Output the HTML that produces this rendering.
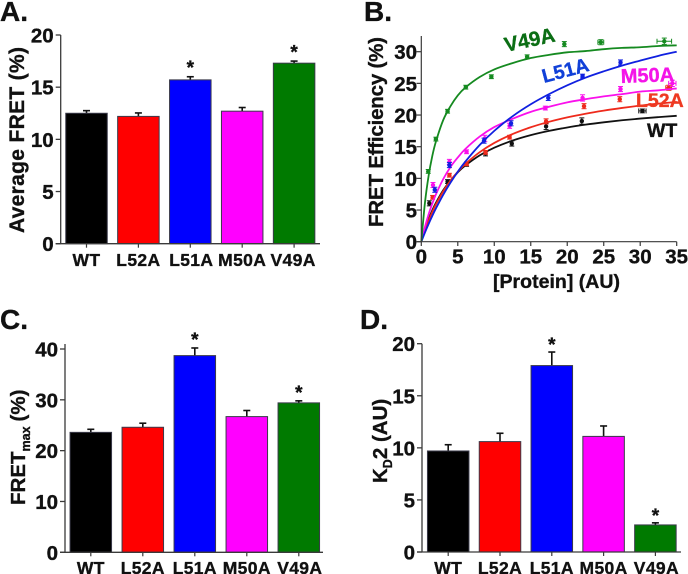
<!DOCTYPE html>
<html lang="en">
<head>
<meta charset="utf-8">
<title>FRET panels</title>
<style>
html,body{margin:0;padding:0;background:#fff;}
#figure{display:block;width:688px;height:574px;font-family:"Liberation Sans",Arial,sans-serif;font-weight:bold;}
text{font-family:"Liberation Sans",Arial,sans-serif;font-weight:bold;fill:#111;stroke:#111;stroke-width:0.35px;}
</style>
</head>
<body>
<svg id="figure" xmlns="http://www.w3.org/2000/svg" width="688" height="574" viewBox="0 0 688 574">
<rect width="688" height="574" fill="#fff"/>
<text x="0" y="21" font-size="28">A.</text>
<text x="364" y="21" font-size="28">B.</text>
<text x="0" y="329" font-size="28">C.</text>
<text x="360" y="329" font-size="28">D.</text>
<text transform="translate(24,233) rotate(-90)" font-size="21" textLength="186" lengthAdjust="spacing">Average FRET (%)</text>
<text transform="translate(383,227) rotate(-90)" font-size="20.5" textLength="190" lengthAdjust="spacing">FRET Efficiency (%)</text>
<text x="493" y="288" font-size="19.5" textLength="127" lengthAdjust="spacing">[Protein] (AU)</text>
<text transform="translate(25,505) rotate(-90)" font-size="20.5">FRET<tspan font-size="12.5" dy="5">max</tspan><tspan dy="-5" dx="5">(%)</tspan></text>
<text transform="translate(387,483) rotate(-90)" font-size="20.5">K<tspan font-size="12.5" dy="5">D</tspan><tspan dy="-5">2 (AU)</tspan></text>
<g id="panel-a"></g>
<g id="panel-b"></g>
<g id="panel-c"></g>
<g id="panel-d"></g>
<text transform="translate(506,52) rotate(-12)" font-size="20.5" style="fill:#0b6e14;stroke:#0b6e14">V49A</text>
<text transform="translate(544,83) rotate(-15)" font-size="19.5" style="fill:#1040d8;stroke:#1040d8">L51A</text>
<text transform="translate(621,83) rotate(-2)" font-size="20" style="fill:#f414e8;stroke:#f414e8">M50A</text>
<text x="636" y="107" font-size="19.5" style="fill:#ee3a22;stroke:#ee3a22">L52A</text>
<text x="647" y="137" font-size="19.5">WT</text>
<script>
const categories = ['WT','L52A','L51A','M50A','V49A'];
const barColors = ['#000000','#ff0000','#0000ff','#ff00ff','#007a00'];
const avgFretValues = [12.5,12.2,15.7,12.7,17.3];
const avgFretErrors = [0.25,0.33,0.3,0.35,0.2];
const avgFretTicks = [0,5,10,15,20];
const avgFretStars = [false,false,true,false,true];
const fretMaxValues = [23.6,24.6,38.7,26.7,29.4];
const fretMaxErrors = [0.6,0.8,1.5,1.2,0.4];
const fretMaxTicks = [0,10,20,30,40];
const fretMaxStars = [false,false,true,false,true];
const kd2Values = [9.7,10.6,17.9,11.1,2.6];
const kd2Errors = [0.6,0.8,1.3,1.0,0.2];
const kd2Ticks = [0,5,10,15,20];
const kd2Stars = [false,false,true,false,true];

const proteinTicks = [0,5,10,15,20,25,30,35];
const efficiencyTicks = [0,5,10,15,20,25,30];
const curveX = [0,0.5,1,1.5,2,3,4,5,6,8,10,12.5,15,17.5,20,22.5,25,27.5,30,32.5,35];
const wtCurve = [0,1.92,3.54,4.93,6.13,8.12,9.68,10.95,12.0,13.63,14.84,15.97,16.83,17.5,18.04,18.48,18.85,19.17,19.44,19.67,19.88];
const l52aCurve = [0,1.77,3.31,4.68,5.89,7.95,9.64,11.04,12.23,14.13,15.59,16.99,18.07,18.93,19.63,20.21,20.7,21.12,21.49,21.8,22.08];
const m50aCurve = [0,2.33,4.31,6.0,7.47,9.88,11.8,13.3,14.6,16.6,18.1,19.4,20.5,21.3,22.0,22.5,22.95,23.3,23.7,23.9,24.2];
const l51aCurve = [0,1.45,2.8,4.06,5.25,7.41,9.33,11.05,12.6,15.27,17.5,19.8,21.7,23.3,24.7,25.9,26.9,27.8,28.6,29.35,30.0];
const v49aCurve = [0,6.15,10.4,13.5,15.8,19.2,21.4,23.1,24.3,26.0,27.2,28.2,29.0,29.5,29.9,30.1,30.4,30.6,30.7,30.9,31.0];

const wtX = [1.1,3.6,6.2,8.8,12.4,17.1,22,30.3];
const wtY = [6.06,9.5,12.2,13.95,15.5,18.2,19.05,20.65];
const wtXErr = [0,0,0,0,0,0,0,0.5];
const wtYErr = [0.4,0.3,0.3,0.4,0.4,0.5,0.5,0.3];
const l52aX = [1.55,3.85,6.2,8.8,12.1,17.1,22.3,27.2,33.9];
const l52aY = [7.0,10.5,12.3,14.1,16.5,19,21.4,22.5,24.3];
const l52aXErr = [0,0,0,0,0,0,0,0,0.4];
const l52aYErr = [0.3,0.3,0.3,0.3,0.3,0.4,0.4,0.4,0.4];
const m50aX = [1.6,3.85,6.2,8.7,12.1,17,22.1,27.3,34.4];
const m50aY = [8.95,12.6,14.2,16.3,18.3,21.1,22.7,24.1,25.0];
const m50aXErr = [0,0,0,0,0,0,0,0,0.5];
const m50aYErr = [0.4,0.4,0.3,0.5,0.4,0.3,0.5,0.4,0.5];
const l51aX = [1.85,3.85,8.6,12.3,17.4,22.1,27.3];
const l51aY = [8.2,12.1,15.95,18.7,22.7,26.15,28.3];
const l51aXErr = [0,0,0,0,0,0,0];
const l51aYErr = [0.4,0.4,0.4,0.4,0.4,0.3,0.4];
const v49aX = [0.95,2,3.6,6.1,9.6,14.5,19.6,24.6,33.3];
const v49aY = [11.1,16.2,20.6,24.4,26.05,29.2,31.2,31.5,31.65];
const v49aXErr = [0,0,0,0,0,0,0,0.4,1];
const v49aYErr = [0.3,0.3,0.3,0.3,0.3,0.3,0.4,0.4,0.5];

const SVGNS = 'http://www.w3.org/2000/svg';
const AXIS_COLOR = '#3a3a3a';

function make(parent, tag, attrs, text) {
  const el = document.createElementNS(SVGNS, tag);
  for (const k in attrs) el.setAttribute(k, attrs[k]);
  if (text !== undefined) el.textContent = text;
  parent.appendChild(el);
  return el;
}

function drawBarPanel(id, opt, values, errors, ticks, stars) {
  const root = document.getElementById(id);
  const maxTick = ticks[ticks.length - 1];
  const y = v => opt.y0 + (opt.yTop - opt.y0) * v / maxTick;
  const x = i => opt.x0 + opt.step * i;
  values.forEach((v, i) => {
    const top = y(v);
    const errTop = y(v + errors[i]);
    const cx = x(i);
    const errLine = make(root, 'line', {x1: cx, x2: cx, y1: top, y2: errTop, stroke: '#111', 'stroke-width': 1.6});
    
    
    const cap = make(root, 'line', {x1: cx - opt.cap, x2: cx + opt.cap, y1: errTop, y2: errTop, stroke: '#111', 'stroke-width': 1.6});
    
    
    const bar = make(root, 'rect', {x: cx - opt.barW / 2, y: top, width: opt.barW, height: opt.y0 - top, fill: barColors[i], stroke: '#3a3a4a', 'stroke-width': 1});
    
    
    if (stars[i]) {
      const star = make(root, 'text', {x: cx, y: errTop + opt.starDy, 'font-size': 19, 'text-anchor': 'middle'}, '*');
      
      
    }
    const tick = make(root, 'line', {x1: cx, x2: cx, y1: opt.y0, y2: opt.y0 + 4, stroke: AXIS_COLOR, 'stroke-width': 1.2});
    
    
    const lab = make(root, 'text', {x: cx + opt.labDx[i], y: opt.labY, 'font-size': 17.5, 'text-anchor': 'middle', 'letter-spacing': 0.35}, categories[i]);
    
    
  });
  const yAxis = make(root, 'line', {x1: opt.ax, x2: opt.ax, y1: opt.axisTop, y2: opt.y0, stroke: AXIS_COLOR, 'stroke-width': 1.3});
  
  
  const xAxis = make(root, 'line', {x1: opt.ax - 5, x2: opt.axEnd, y1: opt.y0, y2: opt.y0, stroke: AXIS_COLOR, 'stroke-width': 1.3});
  
  
  ticks.forEach(t => {
    const ty = y(t);
    const tk = make(root, 'line', {x1: opt.ax - 5, x2: opt.ax, y1: ty, y2: ty, stroke: AXIS_COLOR, 'stroke-width': 1.3});
    
    
    const lb = make(root, 'text', {x: opt.ax - 7, y: ty + 7.5, 'font-size': 20.5, 'text-anchor': 'end'}, String(t));
    
    
  });
}

drawBarPanel('panel-a', {x0: 86.5, step: 51.9, barW: 41.5, y0: 243.7, yTop: 35, ax: 60.7, axisTop: 35, axEnd: 320, cap: 3.5, starDy: -2.5, labY: 266, labDx: [0,0,1,0,-1]}, avgFretValues, avgFretErrors, avgFretTicks, avgFretStars);
drawBarPanel('panel-c', {x0: 90.8, step: 52, barW: 41.5, y0: 552.3, yTop: 349, ax: 65, axisTop: 344, axEnd: 323, cap: 3.5, starDy: -2, labY: 574, labDx: [0,0,0,0,1]}, fretMaxValues, fretMaxErrors, fretMaxTicks, fretMaxStars);
drawBarPanel('panel-d', {x0: 448.2, step: 51.8, barW: 41.5, y0: 552, yTop: 343.7, ax: 422, axisTop: 343.7, axEnd: 681, cap: 3.5, starDy: -1, labY: 574, labDx: [0,0,0,0,1]}, kd2Values, kd2Errors, kd2Ticks, kd2Stars);

const bRoot = document.getElementById('panel-b');
const bx = v => 421.3 + v * (676.7 - 421.3) / 35;
const by = v => 241.7 - v * (241.7 - 51.7) / 30;

function smoothPath(xs, ys) {
  const pts = xs.map((v, i) => [bx(v), by(ys[i])]);
  let d = 'M' + pts[0][0].toFixed(2) + ' ' + pts[0][1].toFixed(2);
  for (let i = 0; i < pts.length - 1; i++) {
    const p0 = pts[Math.max(i - 1, 0)], p1 = pts[i], p2 = pts[i + 1], p3 = pts[Math.min(i + 2, pts.length - 1)];
    const c1x = p1[0] + (p2[0] - p0[0]) / 6, c1y = p1[1] + (p2[1] - p0[1]) / 6;
    const c2x = p2[0] - (p3[0] - p1[0]) / 6, c2y = p2[1] - (p3[1] - p1[1]) / 6;
    d += 'C' + c1x.toFixed(2) + ' ' + c1y.toFixed(2) + ' ' + c2x.toFixed(2) + ' ' + c2y.toFixed(2) + ' ' + p2[0].toFixed(2) + ' ' + p2[1].toFixed(2);
  }
  return d;
}

function drawSeries(name, color, curve, xs, ys, xErr, yErr) {
  const path = make(bRoot, 'path', {d: smoothPath(curveX, curve), fill: 'none', stroke: color, 'stroke-width': 1.8});
  
  
  xs.forEach((v, i) => {
    const px = bx(v), py = by(ys[i]);
    const top = by(ys[i] + yErr[i]), bot = by(ys[i] - yErr[i]);
    const g = make(bRoot, 'g', {stroke: color, 'stroke-width': 1, fill: color});
    
    
    make(g, 'line', {x1: px, x2: px, y1: top, y2: bot});
    make(g, 'line', {x1: px - 2.5, x2: px + 2.5, y1: top, y2: top});
    make(g, 'line', {x1: px - 2.5, x2: px + 2.5, y1: bot, y2: bot});
    if (xErr[i] > 0) {
      const lft = bx(v - xErr[i]), rgt = bx(v + xErr[i]);
      make(g, 'line', {x1: lft, x2: rgt, y1: py, y2: py});
      make(g, 'line', {x1: lft, x2: lft, y1: py - 2.5, y2: py + 2.5});
      make(g, 'line', {x1: rgt, x2: rgt, y1: py - 2.5, y2: py + 2.5});
    }
    make(g, 'circle', {cx: px, cy: py, r: 2.2, stroke: 'none'});
  });
}

drawSeries('wt', '#111111', wtCurve, wtX, wtY, wtXErr, wtYErr);
drawSeries('l52a', '#ee2a1c', l52aCurve, l52aX, l52aY, l52aXErr, l52aYErr);
drawSeries('m50a', '#fa10ec', m50aCurve, m50aX, m50aY, m50aXErr, m50aYErr);
drawSeries('l51a', '#1020e0', l51aCurve, l51aX, l51aY, l51aXErr, l51aYErr);
drawSeries('v49a', '#158a20', v49aCurve, v49aX, v49aY, v49aXErr, v49aYErr);

const bYAxis = make(bRoot, 'line', {x1: 421.3, x2: 421.3, y1: 36, y2: 241.7, stroke: AXIS_COLOR, 'stroke-width': 1.2});


const bXAxis = make(bRoot, 'line', {x1: 416.5, x2: 676.7, y1: 241.7, y2: 241.7, stroke: AXIS_COLOR, 'stroke-width': 1.2});


efficiencyTicks.forEach(t => {
  const ty = by(t);
  const tk = make(bRoot, 'line', {x1: 416.5, x2: 421.3, y1: ty, y2: ty, stroke: AXIS_COLOR, 'stroke-width': 1.2});
  
  
  const lb = make(bRoot, 'text', {x: 417, y: ty + 7.5, 'font-size': 20.5, 'text-anchor': 'end'}, String(t));
  
  
});
proteinTicks.forEach(t => {
  const tx = bx(t);
  const tk = make(bRoot, 'line', {x1: tx, x2: tx, y1: 241.7, y2: 246, stroke: AXIS_COLOR, 'stroke-width': 1.2});
  
  
  const lb = make(bRoot, 'text', {x: tx, y: 263.5, 'font-size': 20.5, 'text-anchor': 'middle'}, String(t));
  
  
});
</script>
</svg>
</body>
</html>
